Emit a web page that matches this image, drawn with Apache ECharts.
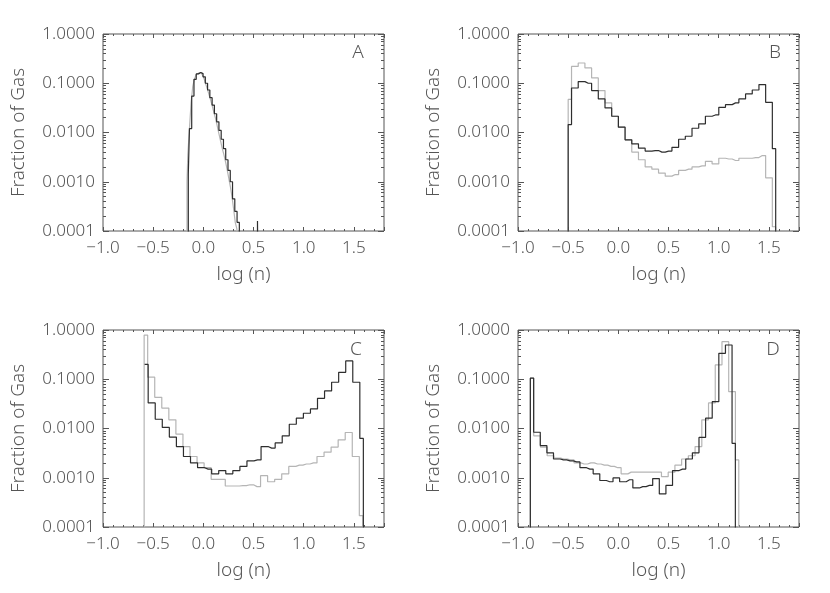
<!DOCTYPE html>
<html>
<head>
<meta charset="utf-8">
<script src="https://cdn.jsdelivr.net/npm/echarts@6/dist/echarts.min.js"></script>
<style>
html,body{margin:0;padding:0;background:#fff;}
#chart{width:830px;height:593px;}
</style>
</head>
<body>
<div id="chart"></div>
<script>
// ---------------- data (histograms: first bin centre, bin width, bin values) ----------------
const panelLabels = ['A', 'B', 'C', 'D'];
const xTickLabels = ['-1.0', '-0.5', '0.0', '0.5', '1.0', '1.5'];
const yTickLabels = ['0.0001', '0.0010', '0.0100', '0.1000', '1.0000'];

// Panel A
const aBlackStart = -0.15, aBlackWidth = 0.0226;
const aBlack = [0.0014, 0.012, 0.055, 0.12, 0.155, 0.165, 0.157, 0.135, 0.10, 0.073, 0.051, 0.036,
  0.024, 0.0165, 0.011, 0.0073, 0.0047, 0.0028, 0.0017, 0.0010, 0.00045, 0.00025, 0.00015,
  0, 0, 0, 0, 0, 0, 0, 0, 0.00016];
const aGrayStart = -0.163, aGrayWidth = 0.0163;
const aGray = [0.001, 0.0035, 0.012, 0.04, 0.085, 0.12, 0.148, 0.160, 0.165, 0.158, 0.145, 0.122,
  0.095, 0.075, 0.058, 0.045, 0.034, 0.025, 0.019, 0.0135, 0.0095, 0.0068, 0.0048, 0.0036,
  0.0026, 0.0018, 0.0012, 0.0008, 0.0005, 0.00028, 0.00015, 0.00011];

// Panel B
const bBlackStart = -0.5, bBlackWidth = 0.0667;
const bBlack = [0.0145, 0.080, 0.108, 0.100, 0.071, 0.048, 0.0316, 0.0214, 0.0128, 0.0071, 0.0059,
  0.0048, 0.0042, 0.0043, 0.0040, 0.0042, 0.0050, 0.0073, 0.0084, 0.0122, 0.0150, 0.0214,
  0.0227, 0.0325, 0.0368, 0.040, 0.048, 0.0606, 0.073, 0.094, 0.041, 0.0047];
const bGrayStart = -0.5, bGrayWidth = 0.0667;
const bGray = [0.047, 0.22, 0.258, 0.205, 0.128, 0.071, 0.040, 0.0214, 0.0128, 0.0071, 0.0040,
  0.0028, 0.0020, 0.0018, 0.0015, 0.0013, 0.0014, 0.0017, 0.0018, 0.0020, 0.0021, 0.0026,
  0.0023, 0.0030, 0.0029, 0.0027, 0.0030, 0.0030, 0.0031, 0.0034, 0.0012, 0.000122];

// Panel C
const cBlackStart = -0.585, cBlackWidth = 0.0703;
const cBlack = [0.20, 0.033, 0.0154, 0.0105, 0.0067, 0.0043, 0.0027, 0.0020, 0.0016, 0.0015, 0.0012,
  0.0014, 0.0012, 0.0014, 0.0017, 0.0022, 0.0023, 0.0043, 0.0040, 0.0051, 0.0071, 0.0122,
  0.0162, 0.0204, 0.025, 0.041, 0.058, 0.087, 0.138, 0.235, 0.087, 0.0063];
const cGrayStart = -0.59, cGrayWidth = 0.0703;
const cGray = [0.79, 0.11, 0.043, 0.026, 0.015, 0.0077, 0.0043, 0.0027, 0.0020, 0.0016, 0.00093,
  0.00093, 0.00068, 0.00068, 0.00069, 0.00072, 0.00066, 0.0011, 0.00083, 0.00093, 0.0012, 0.0017,
  0.0018, 0.0019, 0.0020, 0.0027, 0.0033, 0.0042, 0.0059, 0.0083, 0.0027, 0.00017];

// Panel D
const dBlackStart = -0.877, dBlackWidth = 0.0659;
const dBlack = [0.105, 0.0084, 0.0045, 0.0032, 0.0024, 0.0023, 0.0022, 0.0021, 0.0016, 0.0015, 0.0012,
  0.00088, 0.00083, 0.00099, 0.00083, 0.00091, 0.00062, 0.00066, 0.00070, 0.00096, 0.00047,
  0.00070, 0.0014, 0.0015, 0.0024, 0.0032, 0.0066, 0.0162, 0.035, 0.336, 0.496, 0.005];
const dGrayStart = -0.877, dGrayWidth = 0.067;
const dGray = [0.105, 0.0071, 0.0042, 0.0028, 0.0025, 0.0024, 0.0023, 0.0020, 0.0019, 0.0020, 0.0019,
  0.0018, 0.0017, 0.0016, 0.0012, 0.0013, 0.0013, 0.0013, 0.0013, 0.0013, 0.00105, 0.0013,
  0.0018, 0.0024, 0.0028, 0.0043, 0.015, 0.033, 0.195, 0.58, 0.056, 0.0023];

// ---------------- chart ----------------
const FLOOR = 1e-6; // empty bins fall below the log axis and get clipped
const FONT = '"Noto Sans", "DejaVu Sans", sans-serif';
const FW = 300;
const TXT = '#555555';
const FRAME = '#555555';
const BLACK = '#2e2e2e';
const GRAY = '#b5b5b5';

function histData(start, width, vals, closeLeft) {
  const d = closeLeft ? [[start, FLOOR]] : [];
  vals.forEach((v, i) => d.push([start + i * width, v > 0 ? v : FLOOR]));
  d.push([start + (vals.length - 1) * width, FLOOR]);
  return d;
}

const grids = [
  {left: 103, top: 34, width: 281, height: 197},
  {left: 518, top: 34, width: 281, height: 197},
  {left: 103, top: 330, width: 281, height: 197},
  {left: 518, top: 330, width: 281, height: 197}
];

const majorY = yTickLabels.map(Number);
const minorY = [];
for (let e = -4; e < 0; e++) for (let m = 2; m <= 9; m++) minorY.push(m * Math.pow(10, e));

const noLine = {show: false, onZero: false};
const xAxes = [], yAxes = [];
grids.forEach((g, gi) => {
  const xBase = {gridIndex: gi, type: 'value', min: -1, max: 1.8,
    axisLine: noLine, splitLine: {show: false}};
  xAxes.push(Object.assign({}, xBase, {
    position: 'bottom', interval: 0.5,
    axisTick: {inside: true, length: 4, lineStyle: {color: FRAME}},
    axisLabel: {margin: 9, color: TXT, fontSize: 17, fontWeight: FW, fontFamily: FONT,
      formatter: v => {
        const s = v.toFixed(1);
        return xTickLabels.indexOf(s) >= 0 ? s.replace('-', '\u2212') : '';
      }},
    name: 'log (n)', nameLocation: 'middle', nameGap: 34,
    nameTextStyle: {color: TXT, fontSize: 19, fontWeight: FW, fontFamily: FONT}
  }));
  xAxes.push(Object.assign({}, xBase, {position: 'bottom', interval: 0.1,
    axisTick: {inside: true, length: 2, lineStyle: {color: FRAME}}, axisLabel: {show: false}}));
  xAxes.push(Object.assign({}, xBase, {position: 'top', interval: 0.5,
    axisTick: {inside: true, length: 4, lineStyle: {color: FRAME}}, axisLabel: {show: false}}));
  xAxes.push(Object.assign({}, xBase, {position: 'top', interval: 0.1,
    axisTick: {inside: true, length: 2, lineStyle: {color: FRAME}}, axisLabel: {show: false}}));

  const yBase = {gridIndex: gi, type: 'log', logBase: 10, min: 0.0001, max: 1,
    axisLine: noLine, splitLine: {show: false}};
  yAxes.push(Object.assign({}, yBase, {
    position: 'left',
    axisTick: {inside: true, length: 6, customValues: majorY, lineStyle: {color: FRAME}},
    axisLabel: {customValues: majorY, margin: 8, color: TXT, fontSize: 17, fontWeight: FW, fontFamily: FONT,
      formatter: v => v.toFixed(4)},
    name: 'Fraction of Gas', nameLocation: 'middle', nameGap: 75,
    nameTextStyle: {color: TXT, fontSize: 19, fontWeight: FW, fontFamily: FONT}
  }));
  yAxes.push(Object.assign({}, yBase, {position: 'left',
    axisTick: {inside: true, length: 3, customValues: minorY, lineStyle: {color: FRAME}},
    axisLabel: {show: false}}));
  yAxes.push(Object.assign({}, yBase, {position: 'right',
    axisTick: {inside: true, length: 6, customValues: majorY, lineStyle: {color: FRAME}},
    axisLabel: {show: false}}));
  yAxes.push(Object.assign({}, yBase, {position: 'right',
    axisTick: {inside: true, length: 3, customValues: minorY, lineStyle: {color: FRAME}},
    axisLabel: {show: false}}));
});

// [start, width, values, close-left-edge-to-axis]
const panels = [
  [[aGrayStart, aGrayWidth, aGray, true], [aBlackStart, aBlackWidth, aBlack, true]],
  [[bGrayStart, bGrayWidth, bGray, true], [bBlackStart, bBlackWidth, bBlack, true]],
  [[cGrayStart, cGrayWidth, cGray, true], [cBlackStart, cBlackWidth, cBlack, false]],
  [[dGrayStart, dGrayWidth, dGray, true], [dBlackStart, dBlackWidth, dBlack, true]]
];

const series = [];
panels.forEach((p, gi) => {
  p.forEach((h, si) => {
    series.push({
      type: 'line', step: 'middle', xAxisIndex: gi * 4, yAxisIndex: gi * 4,
      data: histData(h[0], h[1], h[2], h[3]), showSymbol: false, symbol: 'none', clip: true,
      lineStyle: {color: si === 0 ? GRAY : BLACK, width: 1.2},
      z: si === 0 ? 2 : 3, silent: true
    });
  });
});

const labelPos = [[358, 53], [775, 53], [356, 350], [773, 350]];
const graphic = panelLabels.map((t, i) => ({
  type: 'text', x: labelPos[i][0], y: labelPos[i][1], silent: true,
  style: {text: t, fill: TXT, font: FW + ' 19px ' + FONT, textAlign: 'center', textVerticalAlign: 'middle'}
}));

const chart = echarts.init(document.getElementById('chart'), null, {renderer: 'canvas'});
chart.setOption({
  animation: false,
  backgroundColor: '#ffffff',
  grid: grids.map(g => Object.assign({show: true, borderColor: FRAME, borderWidth: 1, backgroundColor: 'transparent'}, g)),
  xAxis: xAxes,
  yAxis: yAxes,
  series: series,
  graphic: graphic
});
</script>
</body>
</html>
